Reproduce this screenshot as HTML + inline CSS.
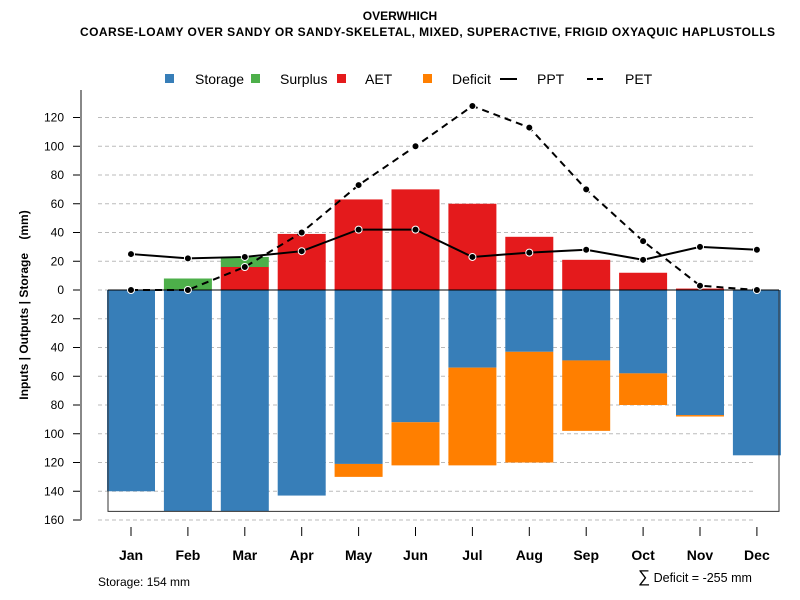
<!DOCTYPE html>
<html><head><meta charset="utf-8"><style>
body{margin:0;background:#fff}
svg{font-family:"Liberation Sans",Arial,sans-serif;display:block}
</style></head><body>
<svg id="chart" width="800" height="600" viewBox="0 0 800 600">
<text x="400" y="20" text-anchor="middle" font-size="12" font-weight="bold">OVERWHICH</text>
<text x="80" y="36" font-size="12" font-weight="bold" textLength="695" lengthAdjust="spacing">COARSE-LOAMY OVER SANDY OR SANDY-SKELETAL, MIXED, SUPERACTIVE, FRIGID OXYAQUIC HAPLUSTOLLS</text>
<g font-size="14">
<rect x="165" y="74" width="9" height="9" fill="#377EB8"/>
<text x="195" y="84">Storage</text>
<rect x="251" y="74" width="9" height="9" fill="#4DAF4A"/>
<text x="280" y="84">Surplus</text>
<rect x="337" y="74" width="9" height="9" fill="#E41A1C"/>
<text x="365" y="84">AET</text>
<rect x="423" y="74" width="9" height="9" fill="#FF7F00"/>
<text x="452" y="84">Deficit</text>
<line x1="500" y1="79" x2="517" y2="79" stroke="#000" stroke-width="2"/>
<text x="537" y="84">PPT</text>
<line x1="587" y1="79" x2="605" y2="79" stroke="#000" stroke-width="2" stroke-dasharray="6,4"/>
<text x="625" y="84">PET</text>
</g>
<text transform="translate(28,305) rotate(-90)" text-anchor="middle" font-size="12" font-weight="bold" xml:space="preserve" style="white-space:pre">Inputs | Outputs | Storage    (mm)</text>
<g id="grid"></g><g id="bars"></g><g id="lines"></g><g id="axes"></g>
<text x="98" y="586" font-size="12">Storage: 154 mm</text>
<text x="638" y="582" font-size="12.5"><tspan font-size="17">∑</tspan> Deficit = -255 mm</text>
</svg>
<script>
const months=["Jan","Feb","Mar","Apr","May","Jun","Jul","Aug","Sep","Oct","Nov","Dec"];
const storage=[140,154,154,143,121,92,54,43,49,58,87,115];
const deficit=[0,0,0,0,9,30,68,77,49,22,1,0];
const aet=[0,0,16,39,63,70,60,37,21,12,1,0];
const surplus=[0,8,7,0,0,0,0,0,0,0,0,0];
const ppt=[25,22,23,27,42,42,23,26,28,21,30,28];
const pet=[0,0,16,40,73,100,128,113,70,34,3,0];
const yTicks=[120,100,80,60,40,20,0,20,40,60,80,100,120,140,160];
const yTickVals=[120,100,80,60,40,20,0,-20,-40,-60,-80,-100,-120,-140,-160];
const NS="http://www.w3.org/2000/svg";
const y=v=>290-v*1.4375;
const x=i=>131+i*56.9;
const bw=48;
function mk(parent,tag,attrs){const e=document.createElementNS(NS,tag);for(const k in attrs)e.setAttribute(k,attrs[k]);document.getElementById(parent).appendChild(e);return e;}
yTickVals.forEach((v,i)=>{
 const g=mk('grid','line',{x1:98,x2:756,y1:y(v),y2:y(v),stroke:'#bbb','stroke-dasharray':'4,3'});
 
 
 const t=mk('axes','line',{x1:73,x2:81,y1:y(v),y2:y(v),stroke:'#000'});
 
 
 const l=mk('axes','text',{x:64,y:y(v)+4,'text-anchor':'end','font-size':12});
 l.textContent=yTicks[i];
 
 
});
const ax=mk('axes','line',{x1:81,x2:81,y1:90,y2:y(-160),stroke:'#888','stroke-width':2});


months.forEach((m,i)=>{
 const s=mk('bars','rect',{x:x(i)-bw/2,y:290,width:bw,height:storage[i]*1.4375,fill:'#377EB8'});
 
 
 if(deficit[i]>0){const d=mk('bars','rect',{x:x(i)-bw/2,y:y(-storage[i]),width:bw,height:deficit[i]*1.4375,fill:'#FF7F00'});
 
 }
 if(aet[i]>0){const a=mk('bars','rect',{x:x(i)-bw/2,y:y(aet[i]),width:bw,height:aet[i]*1.4375,fill:'#E41A1C'});
 
 }
 if(surplus[i]>0){const p=mk('bars','rect',{x:x(i)-bw/2,y:y(aet[i]+surplus[i]),width:bw,height:surplus[i]*1.4375,fill:'#4DAF4A'});
 
 }
 const t=mk('axes','line',{x1:x(i),x2:x(i),y1:527,y2:536,stroke:'#000'});
 
 
 const l=mk('axes','text',{x:x(i),y:560,'text-anchor':'middle','font-size':14,'font-weight':'bold'});
 l.textContent=m;
 
 
});
const box=mk('bars','path',{d:`M108,290 V${y(-154)} H779 V290`,fill:'none',stroke:'#333','stroke-width':1});


const zl=mk('bars','line',{x1:108,x2:779,y1:290,y2:290,stroke:'#000'});


function series(arr,dash,name){
 const pl=mk('lines','polyline',{points:arr.map((v,i)=>x(i)+','+y(v)).join(' '),fill:'none',stroke:'#000','stroke-width':2,'stroke-dasharray':dash});
 
 
 arr.forEach((v,i)=>{const c=mk('lines','circle',{cx:x(i),cy:y(v),r:3.5,fill:'#000',stroke:'#fff','stroke-width':1});
 
 });
}
series(pet,'7,5','pet');
series(ppt,'none','ppt');
</script>
</body></html>
